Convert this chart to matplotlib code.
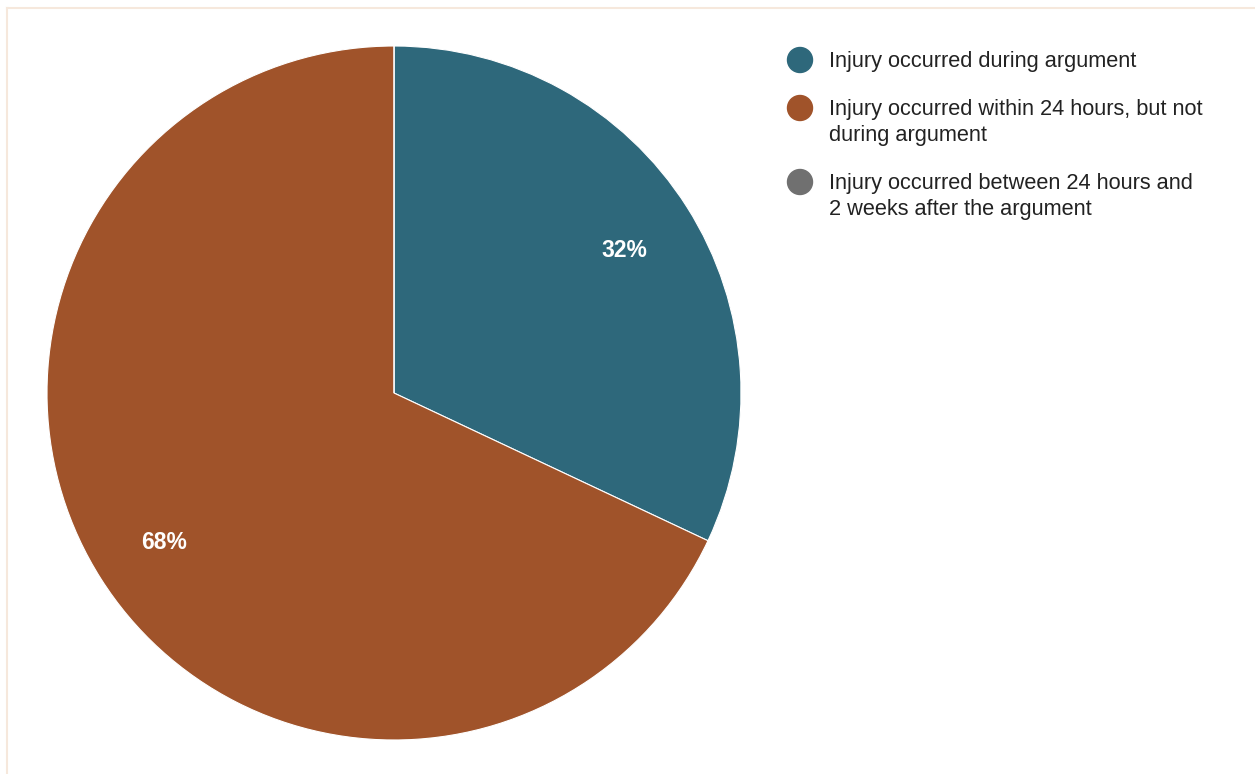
import matplotlib.pyplot as plt
from matplotlib.patches import Ellipse
from matplotlib.lines import Line2D

plt.rcParams['font.family'] = ['Liberation Sans', 'DejaVu Sans']

categories = ['Injury occurred during argument',
              'Injury occurred within 24 hours, but not\nduring argument',
              'Injury occurred between 24 hours and\n2 weeks after the argument']
shares = [32, 68, 0]
colors = ['#2e687b', '#a0532a', '#707070']

W, H = 1255, 774
fig = plt.figure(figsize=(W / 100, H / 100), dpi=100)

# light frame along the top and left edges
fig.add_artist(Line2D([7 / W, 7 / W], [0, 1 - 8 / H], color='#f6e8dc', lw=1.5))
fig.add_artist(Line2D([7 / W, 1], [1 - 8 / H, 1 - 8 / H], color='#f6e8dc', lw=1.5))

cx, cy, r = 394, 393, 347
ax = fig.add_axes([(cx - r) / W, (H - cy - r) / H, 2 * r / W, 2 * r / H])
wedges, _, autotexts = ax.pie(
    shares, colors=colors, startangle=90, counterclock=False,
    autopct=lambda p: f'{p:.0f}%' if p > 0 else '', pctdistance=0.785,
    wedgeprops=dict(edgecolor='white', linewidth=0.8), radius=1)
for t in autotexts:
    t.set_color('white')
    t.set_fontsize(16.5)
    t.set_fontweight('bold')
    tx, ty = t.get_position()
    t.set_position((tx, ty - 0.009))
ax.set_xlim(-1, 1)
ax.set_ylim(-1, 1)
ax.set_aspect('equal')

# legend drawn by hand: dot plus wrapped label
y = 60
for label, c in zip(categories, colors):
    lines = label.split('\n')
    fig.add_artist(Ellipse((800 / W, 1 - y / H), 25 / W, 25 / H, color=c,
                           transform=fig.transFigure))
    for i, line in enumerate(lines):
        fig.text(829 / W, 1 - (y + 7.5 + 26 * i) / H, line, fontsize=15.7,
                 color='#222222', va='baseline', ha='left')
    y += 26 * (len(lines) - 1) + 48

fig.savefig('out.png', dpi=100)
